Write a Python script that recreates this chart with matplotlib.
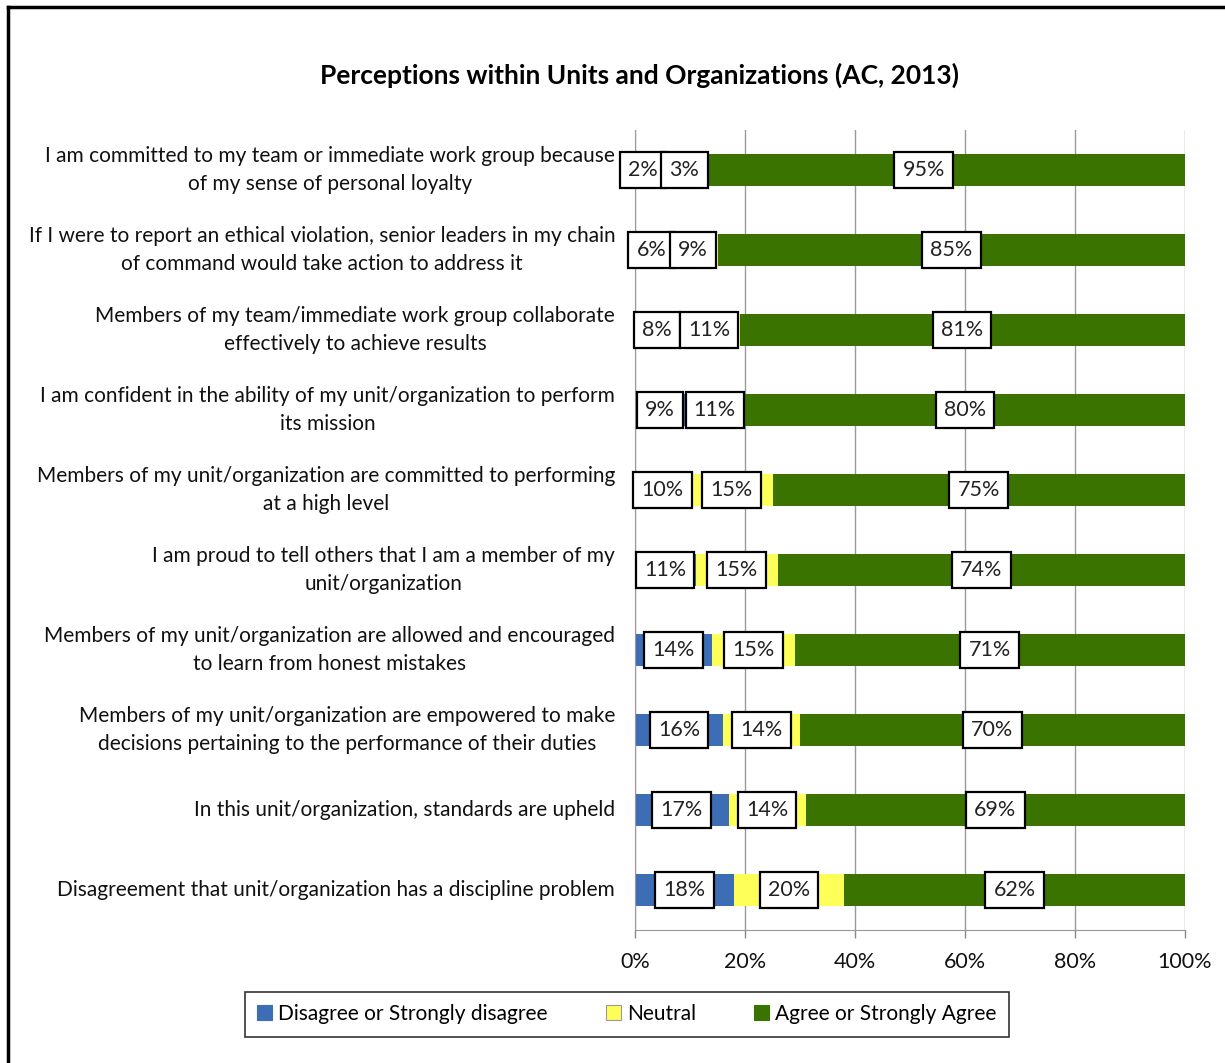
import numpy as np
import matplotlib.pyplot as plt
from matplotlib.patches import Patch
from matplotlib.lines import Line2D
from matplotlib.ticker import PercentFormatter

plt.rcParams['font.family'] = ['Lato', 'DejaVu Sans']

questions = [
    "I am committed to my team or immediate work group because\nof my sense of personal loyalty",
    "If I were to report an ethical violation, senior leaders in my chain\nof command would take action to address it",
    "Members of my team/immediate work group collaborate\neffectively to achieve results",
    "I am confident in the ability of my unit/organization to perform\nits mission",
    "Members of my unit/organization are committed to performing\nat a high level",
    "I am proud to tell others that I am a member of my\nunit/organization",
    "Members of my unit/organization are allowed and encouraged\nto learn from honest mistakes",
    "Members of my unit/organization are empowered to make\ndecisions pertaining to the performance of their duties",
    "In this unit/organization, standards are upheld",
    "Disagreement that unit/organization has a discipline problem",
]
disagree = [2, 6, 8, 9, 10, 11, 14, 16, 17, 18]
neutral = [3, 9, 11, 11, 15, 15, 15, 14, 14, 20]
agree = [95, 85, 81, 80, 75, 74, 71, 70, 69, 62]

series_names = ["Disagree or Strongly disagree", "Neutral", "Agree or Strongly Agree"]
colors = ["#3D6DB5", "#FFFF5A", "#3A7300"]

fig = plt.figure(figsize=(12.25, 10.63), dpi=100)
ax = fig.add_axes([635/1225, 133/1063, 550/1225, 800/1063])

y = np.arange(len(questions))
d = np.array(disagree, float)
n = np.array(neutral, float)
a = np.array(agree, float)

ax.barh(y, d, height=0.4, color=colors[0], zorder=2)
ax.barh(y, n, left=d, height=0.4, color=colors[1], zorder=2)
ax.barh(y, a, left=d + n, height=0.4, color=colors[2], zorder=2)

box = dict(boxstyle="square,pad=0.38", fc="white", ec="black", lw=1.6)
for i in y:
    # keep small-segment labels from running off the axis or into each other
    c1 = max(d[i] / 2, 1.5)
    c2 = max(d[i] + n[i] / 2, c1 + 7.5)
    c3 = d[i] + n[i] + a[i] / 2
    for c, v in ((c1, d[i]), (c2, n[i]), (c3, a[i])):
        ax.text(c, i, f"{v:.0f}%", ha="center", va="center", fontsize=15.5,
                color="#222222", bbox=box, zorder=4)

ax.set_xlim(0, 100)
ax.set_ylim(len(questions) - 0.5, -0.5)
ax.set_xticks(np.arange(0, 101, 20))
ax.xaxis.set_major_formatter(PercentFormatter(decimals=0))
ax.tick_params(axis="x", labelsize=15.5, colors="#888888", labelcolor="#111111",
               length=6, width=1, pad=10)
ax.set_yticks([])
ax.grid(axis="x", color="#999999", lw=1, zorder=0)
for s in ("top", "right"):
    ax.spines[s].set_visible(False)
for s in ("left", "bottom"):
    ax.spines[s].set_color("#999999")

for i, q in enumerate(questions):
    ax.text(-0.036, i, q, transform=ax.get_yaxis_transform(), ha="right",
            va="center", ma="center", fontsize=15, color="#111111",
            linespacing=1.5)

fig.text(639/1225, 1 - 75/1063, "Perceptions within Units and Organizations (AC, 2013)",
         ha="center", va="center", fontsize=19, fontweight="bold")

handles = [Patch(fc=c, ec="#999999" if c == colors[1] else c, lw=0.8) for c in colors]
leg = fig.legend(handles, series_names, loc="center", bbox_to_anchor=(627/1225, 1 - 1014/1063),
                 ncol=3, fontsize=15, frameon=True, fancybox=False, edgecolor="black",
                 handlelength=0.7, handleheight=0.7, handletextpad=0.3, columnspacing=2.8,
                 borderpad=0.6, borderaxespad=0)
leg.get_frame().set_linewidth(1.2)

# outer border (left and top visible)
fig.add_artist(Line2D([8/1225, 8/1225], [0, 1 - 7/1063], color="black", lw=2.5, transform=fig.transFigure))
fig.add_artist(Line2D([8/1225, 1], [1 - 7/1063, 1 - 7/1063], color="black", lw=2.5, transform=fig.transFigure))

fig.savefig("out.png", dpi=100)
